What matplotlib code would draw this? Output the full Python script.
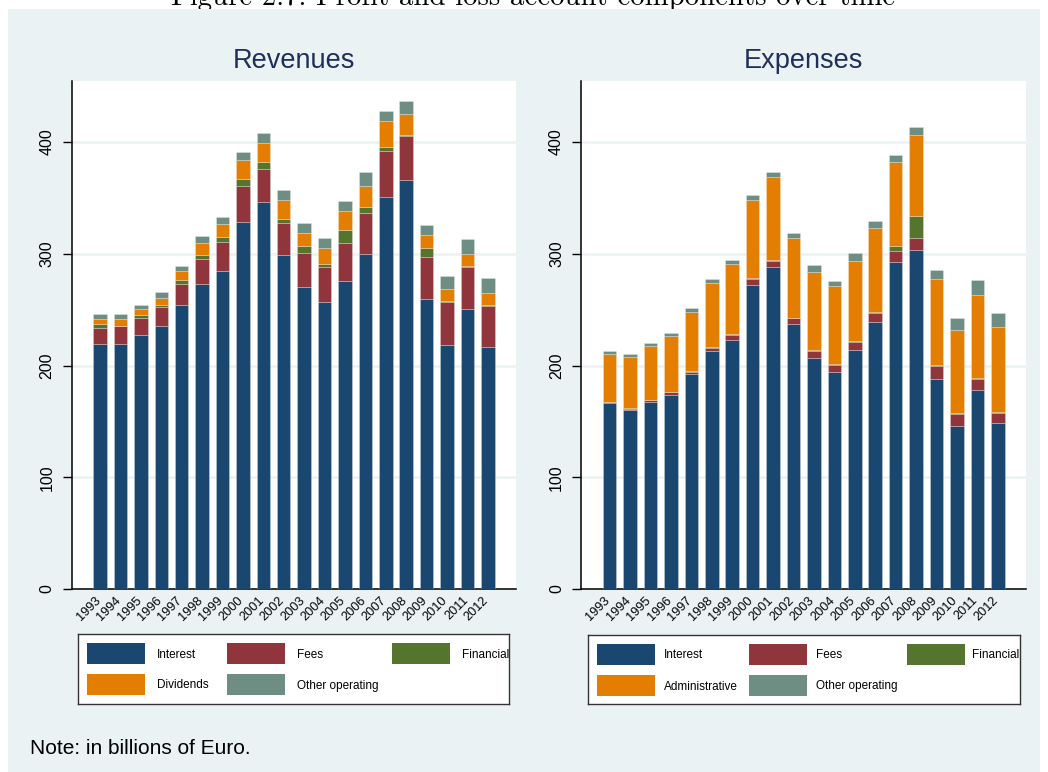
import numpy as np
import matplotlib
matplotlib.use('Agg')
import matplotlib.pyplot as plt
from matplotlib.patches import Rectangle

plt.rcParams['font.family'] = ['Liberation Sans', 'DejaVu Sans']

years = [str(y) for y in range(1993, 2013)]

# Revenues (billions of Euro), stacked components
rev_interest = [219.5, 219.5, 227.6, 235.6, 253.9, 273.2, 284.3, 328.1, 346.0, 298.9,
                270.5, 257.1, 275.3, 299.8, 351.0, 366.0, 259.5, 218.3, 250.6, 216.6]
rev_fees = [14.5, 15.5, 15.2, 16.7, 19.3, 21.8, 26.2, 32.8, 30.1, 28.3,
            30.2, 31.3, 34.3, 36.9, 41.2, 39.4, 37.6, 38.8, 37.8, 36.4]
rev_financial = [3.0, 0.5, 2.2, 1.7, 3.3, 3.9, 4.2, 6.3, 6.3, 4.2,
                 6.5, 2.2, 11.9, 4.8, 3.3, 1.1, 8.3, 0.6, 0.6, 1.0]
rev_dividends = [5.0, 6.1, 5.3, 6.7, 8.1, 11.0, 11.9, 17.0, 17.0, 17.0,
                 11.1, 14.8, 16.8, 19.1, 23.3, 18.8, 11.4, 10.8, 10.8, 10.9]
rev_other = [4.0, 4.2, 3.7, 4.8, 4.7, 6.0, 6.3, 6.8, 8.6, 8.4,
             9.2, 8.7, 8.6, 12.3, 8.9, 11.7, 8.9, 11.3, 13.7, 13.7]

# Expenses
exp_interest = [166.2, 159.9, 167.6, 173.6, 192.1, 212.7, 223.1, 272.0, 288.1, 236.9,
                207.0, 194.2, 214.2, 239.2, 292.6, 303.6, 187.9, 146.1, 178.3, 148.8]
exp_fees = [0.9, 1.5, 1.5, 2.4, 2.4, 3.2, 4.2, 5.4, 5.4, 5.3,
            6.0, 6.2, 6.8, 8.1, 9.6, 10.8, 11.4, 10.8, 9.9, 9.0]
exp_financial = [0.5, 0.9, 0.3, 0.6, 0.5, 0.6, 0.6, 0.6, 1.2, 0.6,
                 0.6, 0.9, 1.0, 0.9, 5.0, 19.4, 1.1, 0.9, 0.8, 0.8]
exp_admin = [43.0, 45.3, 48.0, 49.8, 53.1, 57.1, 63.2, 70.4, 73.7, 71.0,
             70.4, 69.6, 71.8, 75.1, 75.2, 72.5, 76.7, 73.7, 73.8, 75.6]
exp_other = [2.1, 2.4, 2.7, 2.7, 3.0, 3.8, 3.6, 4.4, 4.8, 4.8,
             5.9, 4.7, 6.9, 6.0, 6.0, 6.8, 8.1, 11.3, 13.7, 12.8]

rev_labels = ['Interest', 'Fees', 'Financial', 'Dividends', 'Other operating']
exp_labels = ['Interest', 'Fees', 'Financial', 'Administrative', 'Other operating']
colors = ['#1a476f', '#90353b', '#55752f', '#e37e00', '#6e8e84']

BG = '#eaf2f3'
W, H = 1048, 772

fig = plt.figure(figsize=(W / 100, H / 100), dpi=100, facecolor='white')

# Figure title, mostly cut off at the top of the page
fig.text(533 / W, 1 - 5 / H, 'Figure 2.7: Profit and loss account components over time',
         family='cmr10', fontsize=20.8, ha='center', va='baseline', zorder=-2)

fig.patches.append(Rectangle((8 / W, 0), 1032 / W, (H - 9) / H, transform=fig.transFigure,
                             facecolor=BG, edgecolor='none', zorder=-1))


def px_axes(x0, y0, x1, y1):
    return fig.add_axes([x0 / W, 1 - y1 / H, (x1 - x0) / W, (y1 - y0) / H])


def panel(ax, title, series):
    x = np.arange(len(years))
    bottom = np.zeros(len(years))
    for vals, c in zip(series, colors):
        ax.bar(x, vals, width=0.66, bottom=bottom, color=c, edgecolor=(1, 1, 1, 0.35),
               linewidth=0.5, zorder=3)
        bottom += np.array(vals)
    ax.set_xlim(-1.4, 20.38)
    ax.set_ylim(0, 454.6)
    ax.set_facecolor('white')
    ax.set_yticks([0, 100, 200, 300, 400])
    ax.set_yticklabels(['0', '100', '200', '300', '400'], rotation=90, va='center', fontsize=11.5)
    ax.grid(axis='y', color=BG, lw=1.8, zorder=1)
    ax.tick_params(axis='y', length=6.2, width=1, pad=6)
    ax.set_xticks(x + 0.15)
    ax.set_xticklabels(years, rotation=45, ha='right', fontsize=9.2)
    ax.tick_params(axis='x', length=0, pad=4)
    for s in ['top', 'right']:
        ax.spines[s].set_visible(False)
    ax.spines['left'].set_linewidth(1.1)
    ax.spines['bottom'].set_linewidth(1.1)
    ax.set_title(title, fontsize=19.5, color='#1e2f5a', pad=9)


def legend_box(x0, y0, x1, y1, labels, key_x, text_x):
    lg = px_axes(x0, y0, x1, y1)
    lg.set_xlim(0, x1 - x0)
    lg.set_ylim(y1 - y0, 0)
    lg.set_xticks([])
    lg.set_yticks([])
    lg.set_facecolor('white')
    for s in lg.spines.values():
        s.set_linewidth(1.0)
        s.set_color('#333333')
    rows = [(9, 21), (40, 21)]
    for i, (lab, c) in enumerate(zip(labels, colors)):
        r, col = divmod(i, 3)
        ky, kh = rows[r]
        lg.add_patch(Rectangle((key_x[col], ky), 58, kh, facecolor=c, edgecolor='none'))
        lg.text(text_x[col], ky + kh / 2 + 1, lab, fontsize=8.5, va='center', ha='left',
                clip_on=True)


ax1 = px_axes(71.5, 81, 516, 589)
panel(ax1, 'Revenues', [rev_interest, rev_fees, rev_financial, rev_dividends, rev_other])
ax2 = px_axes(581, 81, 1026, 589)
panel(ax2, 'Expenses', [exp_interest, exp_fees, exp_financial, exp_admin, exp_other])

legend_box(78, 634, 509, 704, rev_labels, [8.7, 148.7, 313.7], [78.7, 218.7, 383.7])
legend_box(588, 635, 1020, 704, exp_labels, [8.7, 161, 319.3], [76, 228, 384])

fig.text(30 / W, 1 - 748 / H, 'Note: in billions of Euro.', fontsize=15, va='center', ha='left')

fig.savefig('out.png', dpi=100, facecolor='white')
